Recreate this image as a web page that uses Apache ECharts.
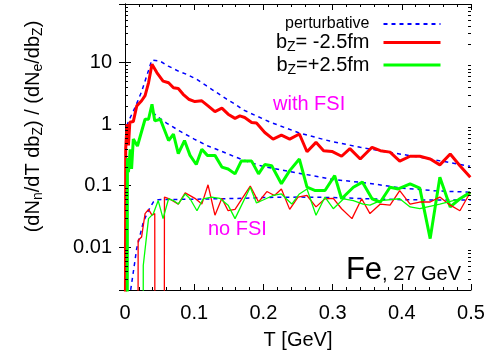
<!DOCTYPE html>
<html><head><meta charset="utf-8">
<script src="https://cdn.jsdelivr.net/npm/echarts@6/dist/echarts.min.js"></script>
<style>html,body{margin:0;padding:0;background:#fff}#c{width:490px;height:355px}</style>
</head><body><div id="c"></div>
<script>
// ---- data (T in GeV, ratio) ----
const xTickValues = [0, 0.1, 0.2, 0.3, 0.4, 0.5];
const yTickLabels = ['0.01', '0.1', '1', '10'];
const T_MIN = 0, T_MAX = 0.5;
const Y_MIN = 0.002, Y_MAX = 90;

const pertUpper = [[0.0025,0.94],[0.0072,1.25],[0.0145,1.86],[0.0192,2.5],[0.0241,3.4],[0.0289,5.0],[0.0337,7.3],[0.0386,11.0],[0.0506,10.6],[0.0626,8.8],[0.077,7.3],[0.0892,6.45],[0.1036,5.35],[0.118,4.17],[0.1325,3.26],[0.147,2.54],[0.159,2.11],[0.171,1.70],[0.2095,1.08],[0.2529,0.71],[0.296,0.53],[0.34,0.42],[0.383,0.345],[0.4263,0.29],[0.4986,0.206]];
const pertMid = [[0.04,1.55],[0.05,1.25],[0.06,1.04],[0.08,0.76],[0.10,0.57],[0.12,0.44],[0.14,0.36],[0.16,0.29],[0.18,0.24],[0.20,0.204],[0.25,0.16],[0.30,0.126],[0.35,0.11],[0.40,0.091],[0.45,0.082],[0.50,0.078]];
const pertLow = [[0.0065,0.0015],[0.012,0.0039],[0.0169,0.0094],[0.0264,0.0253],[0.0337,0.039],[0.0409,0.054],[0.0481,0.059],[0.10,0.06],[0.17,0.062],[0.20,0.064],[0.25,0.065],[0.30,0.064],[0.35,0.061],[0.40,0.059],[0.45,0.058],[0.50,0.058]];
const redFSI = [[0,0],[0.001,0.4],[0.003,1.0],[0.005,0.45],[0.007,1.07],[0.012,1.1],[0.017,1.98],[0.024,2.4],[0.029,2.9],[0.034,4.7],[0.039,9.4],[0.046,6.9],[0.055,5.0],[0.063,4.7],[0.070,3.9],[0.077,3.8],[0.084,3.06],[0.092,2.54],[0.101,2.33],[0.111,2.39],[0.120,1.98],[0.130,1.6],[0.140,1.82],[0.149,1.45],[0.159,1.24],[0.166,1.36],[0.173,1.28],[0.183,1.06],[0.190,1.04],[0.202,0.73],[0.214,0.57],[0.226,0.66],[0.238,0.57],[0.252,0.69],[0.263,0.355],[0.276,0.505],[0.287,0.37],[0.299,0.36],[0.313,0.30],[0.325,0.40],[0.340,0.27],[0.357,0.42],[0.369,0.37],[0.383,0.35],[0.397,0.25],[0.412,0.30],[0.426,0.30],[0.441,0.27],[0.455,0.217],[0.470,0.327],[0.484,0.21],[0.499,0.137]];
const greenFSI = [[0.003,0],[0.0035,0.28],[0.005,0.165],[0.0075,0.39],[0.0095,0.186],[0.012,0.57],[0.018,0.44],[0.029,1.2],[0.034,1.2],[0.039,2.1],[0.043,1.13],[0.051,1.2],[0.063,0.54],[0.070,0.69],[0.077,0.33],[0.086,0.54],[0.094,0.31],[0.103,0.22],[0.111,0.39],[0.119,0.31],[0.130,0.31],[0.140,0.20],[0.149,0.186],[0.159,0.155],[0.168,0.25],[0.183,0.25],[0.193,0.155],[0.202,0.22],[0.212,0.21],[0.226,0.107],[0.238,0.175],[0.252,0.27],[0.263,0.094],[0.275,0.083],[0.289,0.083],[0.303,0.145],[0.313,0.061],[0.330,0.094],[0.343,0.114],[0.357,0.061],[0.369,0.054],[0.383,0.094],[0.395,0.088],[0.412,0.107],[0.426,0.091],[0.441,0.0137],[0.455,0.137],[0.470,0.045],[0.484,0.061],[0.499,0.078]];
const redNoFSI = [[0.0185,0],[0.019,0.0129],[0.024,0.0146],[0.029,0.035],[0.034,0.041],[0.039,0.033],[0.043,0.035],[0.0435,0],[0.0565,0],[0.057,0.065],[0.064,0.061],[0.077,0.05],[0.087,0.076],[0.101,0.062],[0.111,0.05],[0.120,0.103],[0.130,0.033],[0.140,0.062],[0.149,0.039],[0.159,0.041],[0.181,0.098],[0.193,0.054],[0.205,0.08],[0.216,0.069],[0.226,0.088],[0.238,0.041],[0.250,0.065],[0.263,0.069],[0.276,0.045],[0.289,0.061],[0.301,0.062],[0.313,0.042],[0.328,0.029],[0.342,0.061],[0.354,0.035],[0.369,0.05],[0.383,0.048],[0.397,0.083],[0.412,0.05],[0.426,0.054],[0.441,0.054],[0.455,0.065],[0.470,0.048],[0.484,0.039],[0.499,0.078]];
const greenNoFSI = [[0.026,0],[0.0264,0.005],[0.034,0.029],[0.041,0.035],[0.048,0.057],[0.055,0.029],[0.063,0.061],[0.070,0.057],[0.077,0.05],[0.087,0.073],[0.094,0.061],[0.104,0.039],[0.113,0.061],[0.125,0.065],[0.137,0.062],[0.149,0.048],[0.159,0.029],[0.181,0.094],[0.190,0.052],[0.214,0.069],[0.226,0.073],[0.241,0.05],[0.252,0.073],[0.263,0.088],[0.276,0.033],[0.289,0.065],[0.301,0.042],[0.316,0.061],[0.330,0.057],[0.344,0.05],[0.354,0.048],[0.369,0.057],[0.397,0.061],[0.412,0.045],[0.426,0.042],[0.455,0.05],[0.484,0.061],[0.499,0.073]];

const LEG_PERT = 'perturbative', LEG_RED = 'b_Z= -2.5fm', LEG_GREEN = 'b_Z=+2.5fm';

// ---- chart ----
const FONT = 'Liberation Sans, Arial, Helvetica, sans-serif';
const chart = echarts.init(document.getElementById('c'), null, {renderer: 'canvas'});
const zeroFloor = d => d.map(p => [p[0], p[1] > 0 ? p[1] : 1e-7]);
function line(name, data, color, width, dashed, z) {
  return {type: 'line', name, data: zeroFloor(data), xAxisIndex: 0, yAxisIndex: 0,
    symbol: 'none', clip: true, animation: false, z: z,
    lineStyle: {color, width, type: dashed ? [4, 4] : 'solid'}, itemStyle: {color}};
}
const subRich = {
  m: {fontSize: 20, fontFamily: FONT, color: '#000'},
  s: {fontSize: 14, fontFamily: FONT, color: '#000', padding: [10, 0, 0, 0]}
};
function subText(str) { // "b_Z..." -> rich
  return str.replace(/([^_]*)_(\w)/g, (m0, a, b) => (a ? '{m|' + a + '}' : '') + '{s|' + b + '}')
            .replace(/\}([^{}]+)$/, '}{m|$1}');
}
const yName = '{m|(dN}{s|n}{m|/dT db}{s|Z}{m|) / (dN}{s|e}{m|/db}{s|Z}{m|)}';

const tickCommon = {inside: true, length: 6, lineStyle: {color: '#000', width: 1}};
const option = {
  animation: false,
  backgroundColor: '#fff',
  grid: {left: 125, right: 19, top: 4, bottom: 64, containLabel: false},
  xAxis: [
    {type: 'value', min: T_MIN, max: T_MAX, interval: 0.1, position: 'bottom',
     name: 'T [GeV]', nameLocation: 'middle', nameGap: 40,
     nameTextStyle: {fontFamily: FONT, fontSize: 20, color: '#000'},
     axisLine: {show: true, lineStyle: {color: '#000', width: 1}},
     axisTick: tickCommon, minorTick: {show: true, splitNumber: 5, length: 3, lineStyle: {color: '#000'}},
     splitLine: {show: false},
     axisLabel: {fontFamily: FONT, fontSize: 20, color: '#000', margin: 13,
       formatter: v => xTickValues.some(t => Math.abs(t - v) < 1e-9) ? String(+v.toFixed(1)) : ''}},
    {type: 'value', min: T_MIN, max: T_MAX, interval: 0.1, position: 'top',
     axisLine: {show: true, lineStyle: {color: '#000', width: 1}},
     axisTick: tickCommon, minorTick: {show: true, splitNumber: 5, length: 3, lineStyle: {color: '#000'}},
     splitLine: {show: false}, axisLabel: {show: false}}
  ],
  yAxis: [
    {type: 'log', logBase: 10, min: Y_MIN, max: Y_MAX, position: 'left',
     name: yName, nameLocation: 'middle', nameGap: 80, nameRotate: 90,
     nameTextStyle: {fontFamily: FONT, fontSize: 20, color: '#000', rich: subRich, padding: [0, 0, 0, 41]},
     axisLine: {show: true, lineStyle: {color: '#000', width: 1}},
     axisTick: tickCommon, splitLine: {show: false}, minorTick: {show: false},
     axisLabel: {fontFamily: FONT, fontSize: 20, color: '#000', margin: 13, showMinLabel: false, showMaxLabel: false,
       formatter: v => { const s = String(+(+v).toPrecision(3)); return yTickLabels.indexOf(s) >= 0 ? s : ''; }}},
    {type: 'log', logBase: 10, min: Y_MIN, max: Y_MAX, position: 'right',
     axisLine: {show: true, lineStyle: {color: '#000', width: 1}},
     axisTick: tickCommon, splitLine: {show: false}, axisLabel: {show: false}}
  ],
  legend: {
    orient: 'vertical', right: 43, top: 11, align: 'right',
    itemWidth: 57, itemHeight: 20, itemGap: 0.5,
    itemStyle: {opacity: 0},
    textStyle: {fontFamily: FONT, fontSize: 20, color: '#000', padding: [0, 9, 0, 0], rich: subRich},
    formatter: name => name === LEG_PERT ? name : subText(name),
    data: [{name: LEG_PERT, textStyle: {fontSize: 16}},
           {name: LEG_RED, lineStyle: {width: 3}},
           {name: LEG_GREEN, lineStyle: {width: 3}}]
  },
  series: [
    line(LEG_PERT, pertUpper, '#0000ff', 1.5, true, 2),
    line(LEG_PERT, pertMid, '#0000ff', 1.5, true, 2),
    line(LEG_PERT, pertLow, '#0000ff', 1.5, true, 2),
    line(LEG_RED, redFSI, '#ff0000', 3, false, 3),
    line(LEG_GREEN, greenFSI, '#00ff00', 3, false, 3),
    line('red, no FSI', redNoFSI, '#ff0000', 1.3, false, 4),
    line('green, no FSI', greenNoFSI, '#00ff00', 1.3, false, 4)
  ]
};
chart.setOption(option);

// minor ticks of the log axis (2..9 per decade) on both sides, placed through the axis scale
const xl = chart.convertToPixel({xAxisIndex: 0}, T_MIN);
const xr = chart.convertToPixel({xAxisIndex: 0}, T_MAX);
const gfx = [];
for (let d = -3; d <= 1; d++) {
  for (let k = 2; k <= 9; k++) {
    const v = k * Math.pow(10, d);
    if (v <= Y_MIN || v >= Y_MAX) continue;
    const y = Math.round(chart.convertToPixel({yAxisIndex: 0}, v)) + 0.5;
    gfx.push({type: 'line', silent: true, z: 10, shape: {x1: xl, y1: y, x2: xl + 3, y2: y}, style: {stroke: '#000', lineWidth: 1}});
    gfx.push({type: 'line', silent: true, z: 10, shape: {x1: xr - 3, y1: y, x2: xr, y2: y}, style: {stroke: '#000', lineWidth: 1}});
  }
}
gfx.push({type: 'text', left: 273, top: 94, z: 20, style: {text: 'with FSI', fill: '#ff00ff', font: '20px ' + FONT}});
gfx.push({type: 'text', left: 208, top: 219, z: 20, style: {text: 'no FSI', fill: '#ff00ff', font: '20px ' + FONT}});
gfx.push({type: 'text', right: 29, top: 255, z: 20, style: {text: '{a|Fe}{b|, 27 GeV}', fill: '#000',
  rich: {a: {fontSize: 31, fontFamily: FONT, fill: '#000'}, b: {fontSize: 20, fontFamily: FONT, fill: '#000', padding: [7, 0, 0, 0]}}}});
chart.setOption({graphic: gfx});
</script></body></html>
